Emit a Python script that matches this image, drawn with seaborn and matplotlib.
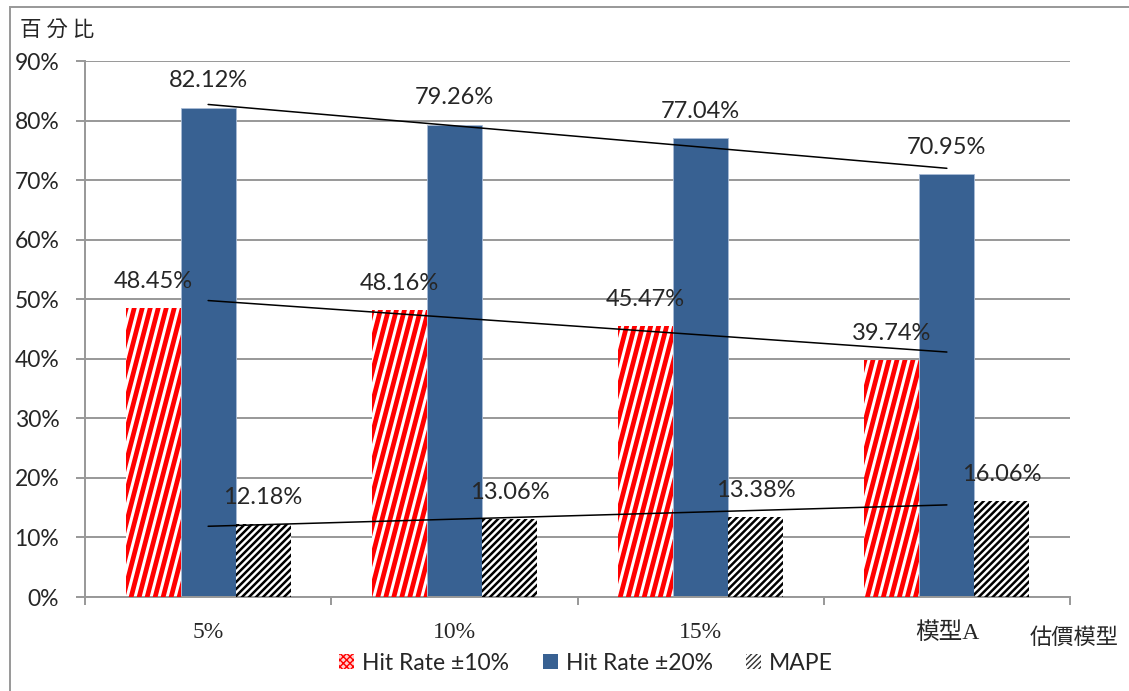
import numpy as np
import pandas as pd
import seaborn as sns
import matplotlib.pyplot as plt
from matplotlib.patches import Patch, Rectangle
from matplotlib.collections import LineCollection

# 資料
models = ['5%', '10%', '15%', '模型A']
series = ['Hit Rate ±10%', 'Hit Rate ±20%', 'MAPE']
hit10 = [48.45, 48.16, 45.47, 39.74]
hit20 = [82.12, 79.26, 77.04, 70.95]
mape = [12.18, 13.06, 13.38, 16.06]
yticks = [0, 10, 20, 30, 40, 50, 60, 70, 80, 90]

df = pd.DataFrame({
    'model': models * 3,
    'series': [series[0]] * 4 + [series[1]] * 4 + [series[2]] * 4,
    'value': hit10 + hit20 + mape,
})

sns.set_style('white')
plt.rcParams['font.family'] = ['Lato', 'Noto Sans CJK TC', 'DejaVu Sans']

W, H = 1129, 691
fig = plt.figure(figsize=(W / 100, H / 100), dpi=100)
ax = fig.add_axes([85 / W, 1 - 597 / H, (1070 - 85) / W, (597 - 61) / H])

grey = '#989898'
blue = '#386192'

sns.barplot(data=df, x='model', y='value', hue='series', order=models,
            hue_order=series, palette=['white', blue, 'white'],
            width=0.67, saturation=1, legend=False, ax=ax, zorder=2)

ax.set_xlim(-0.5, 3.5)
ax.set_ylim(0, 90)
ax.set_yticks(yticks)
ax.set_yticklabels([f'{t}%' for t in yticks], fontsize=16.5)
ax.set_xlabel('')
ax.set_ylabel('')

# 邊框與格線
for s in ['top', 'right']:
    ax.spines[s].set_visible(False)
for s in ['left', 'bottom']:
    ax.spines[s].set_color(grey)
    ax.spines[s].set_linewidth(1.4)
ax.yaxis.grid(True, color=grey, lw=1.4)
ax.set_axisbelow(True)
ax.tick_params(axis='y', length=6.5, width=1.4, color=grey, pad=12, left=True)
ax.tick_params(axis='x', which='major', length=0, pad=18)
ax.set_xticks(np.arange(-0.5, 4, 1), minor=True)
ax.tick_params(axis='x', which='minor', length=6, width=1.4, color=grey,
               direction='out', bottom=True)
ax.set_xticklabels(models, fontsize=17,
                   fontfamily=['Liberation Serif', 'Noto Sans CJK TC'])


# 斜紋填充
def stripes(patch, period, slope, color, lw):
    bb = patch.get_window_extent()
    h = bb.y1 - bb.y0
    inv = ax.transData.inverted()
    segs = []
    xs = np.arange(bb.x0 - h * slope - period, bb.x1 + period, period)
    for x0 in xs:
        p = inv.transform([(x0, bb.y0 - 2), (x0 + (h + 4) * slope, bb.y1 + 2)])
        segs.append(p)
    lc = LineCollection(segs, colors=color, linewidths=lw, zorder=3)
    ax.add_collection(lc, autolim=False)
    lc.set_clip_path(patch)


for bar in ax.containers[0]:
    bar.set_edgecolor('none')
    stripes(bar, 8.0, 0.26, 'red', 3.4)
for bar in ax.containers[2]:
    bar.set_edgecolor('none')
    stripes(bar, 7.0, 1.0, 'black', 1.8)
for bar in ax.containers[1]:
    bar.set_edgecolor('#a9bcd6')
    bar.set_linewidth(0.6)

# 數值標籤
for cont, vals in zip(ax.containers, [hit10, hit20, mape]):
    for bar, v in zip(cont, vals):
        xc = bar.get_x() + bar.get_width() / 2
        ax.annotate(f'{v:.2f}%', (xc, v), xytext=(0, 19.5),
                    textcoords='offset points', ha='center', va='center',
                    fontsize=17, zorder=6)

# 趨勢線
xpos = np.arange(len(models))
for vals in [hit20, hit10, mape]:
    c = np.polyfit(xpos, vals, 1)
    ax.plot(xpos, np.polyval(c, xpos), color='black', lw=1.1, zorder=5)

# 圖例
handles = [
    Patch(facecolor='#ffd0d0', edgecolor='red', hatch='xxxxx', lw=0),
    Patch(facecolor=blue, edgecolor='none'),
    Patch(facecolor='white', edgecolor='#333333', hatch='//////', lw=0),
]
fig.legend(handles, series, loc='center', bbox_to_anchor=(586 / W, 1 - 663 / H),
           ncol=3, frameon=False, fontsize=16.5, handlelength=0.65,
           handleheight=0.65, handletextpad=0.35, columnspacing=1.45)

# 軸標題
fig.text(20 / W, 1 - 30 / H, '百 分 比', fontsize=15.5, ha='left', va='center',
         family=['Noto Sans CJK TC'])
fig.text(1030 / W, 1 - 637 / H, '估價模型', fontsize=16, ha='left',
         va='center', family=['Noto Sans CJK TC'])

# 外框
fig.patches.append(Rectangle((10 / W, -0.05), 1.1, 1 - 7 / H + 0.05,
                             transform=fig.transFigure, fill=False,
                             edgecolor=grey, lw=1.4))

fig.savefig('out.png', dpi=100)
